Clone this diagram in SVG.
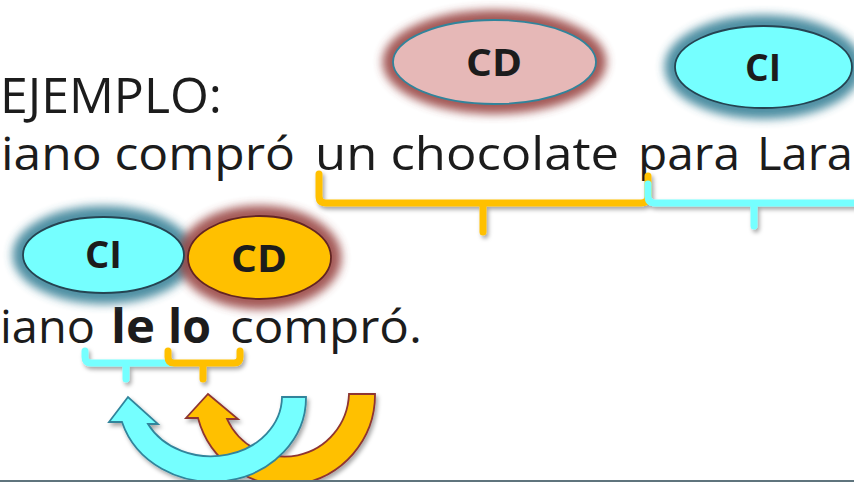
<svg xmlns="http://www.w3.org/2000/svg" width="854" height="482" viewBox="0 0 854 482">
<defs>
<style>
.txt{font-family:"Open Sans","Noto Sans","Liberation Sans",sans-serif;fill:#1c1c1c}
.big{font-size:49px}
.line{font-size:46px}
.bold{font-weight:bold}
.lbl{font-family:"Open Sans","Noto Sans","Liberation Sans",sans-serif;font-weight:bold;font-size:37px;fill:#1c1c1c;text-anchor:middle}
.brO{fill:none;stroke:#FFC000;stroke-width:7;stroke-linecap:round;stroke-linejoin:round}
.brC{fill:none;stroke:#75FFFF;stroke-width:7;stroke-linecap:round;stroke-linejoin:round}
.glowR{fill:#9A4644;stroke:#9A4644;stroke-width:8;opacity:0.9}
.glowT{fill:#3A8399;stroke:#3A8399;stroke-width:8;opacity:0.9}
</style>
<filter id="blur" x="-30%" y="-40%" width="160%" height="180%">
<feGaussianBlur stdDeviation="5"/>
</filter>
<filter id="shadow" x="-20%" y="-20%" width="140%" height="150%">
<feDropShadow dx="2" dy="3" stdDeviation="2" flood-color="#000" flood-opacity="0.35"/>
</filter>
</defs>
<rect width="854" height="482" fill="#ffffff"/>

<g id="texts">
<text class="txt big" x="0" y="113" textLength="222" lengthAdjust="spacingAndGlyphs">EJEMPLO:</text>
<text class="txt line" x="1" y="170" textLength="294" lengthAdjust="spacingAndGlyphs">iano compró</text>
<text class="txt line" x="315" y="170" textLength="304" lengthAdjust="spacingAndGlyphs">un chocolate</text>
<text class="txt line" x="638" y="170" textLength="102" lengthAdjust="spacingAndGlyphs">para</text>
<text class="txt line" x="757" y="170" textLength="96" lengthAdjust="spacingAndGlyphs">Lara</text>
<text class="txt line" x="0" y="343" textLength="95" lengthAdjust="spacingAndGlyphs">iano</text>
<text class="txt line bold" x="111" y="343" textLength="44" lengthAdjust="spacingAndGlyphs">le</text>
<text class="txt line bold" x="168" y="343" textLength="43" lengthAdjust="spacingAndGlyphs">lo</text>
<text class="txt line" x="230" y="343" textLength="192" lengthAdjust="spacingAndGlyphs">compró.</text>
</g>

<g id="node-cd-top">
<ellipse class="glowR" cx="494.5" cy="62" rx="108" ry="48" filter="url(#blur)"/>
<ellipse cx="494.5" cy="62" rx="101.5" ry="42" fill="#E6B8B7" stroke="#31849B" stroke-width="1.8"/>
<text class="lbl" x="494" y="76" textLength="56" lengthAdjust="spacingAndGlyphs">CD</text>
</g>

<g id="node-ci-top">
<ellipse class="glowT" cx="763.5" cy="67" rx="95" ry="48" filter="url(#blur)"/>
<ellipse cx="763.5" cy="67" rx="88.5" ry="41" fill="#75FFFF" stroke="#254452" stroke-width="1.8"/>
<text class="lbl" x="763" y="81" textLength="36" lengthAdjust="spacingAndGlyphs">CI</text>
</g>

<g id="node-ci-bottom">
<ellipse class="glowT" cx="103.5" cy="255" rx="87" ry="45" filter="url(#blur)"/>
</g>
<g id="node-cd-bottom">
<ellipse class="glowR" cx="259.5" cy="257.5" rx="78" ry="48" filter="url(#blur)"/>
</g>
<g id="node-ci-bottom-shape">
<ellipse cx="103.5" cy="255" rx="80.5" ry="38" fill="#75FFFF" stroke="#254452" stroke-width="1.8"/>
<text class="lbl" x="103.5" y="268" textLength="37" lengthAdjust="spacingAndGlyphs">CI</text>
</g>
<g id="node-cd-bottom-shape">
<ellipse cx="259.5" cy="257.5" rx="71.5" ry="41.5" fill="#FFC000" stroke="#632523" stroke-width="1.8"/>
<text class="lbl" x="259" y="272" textLength="56" lengthAdjust="spacingAndGlyphs">CD</text>
</g>

<g id="connectors">
<g filter="url(#shadow)">
<path class="brO" d="M319 174 V196 Q319 203 326 203 H641 Q648 203 648 196 V176 M483 203 V232"/>
<path class="brC" d="M648 184 V196 Q648 203 655 203 H870 M754 203 V226"/>
<path class="brC" d="M85 351 V357 Q85 363 91 363 H172 M126 363 V379"/>
<path class="brO" d="M168 351 V357 Q168 363 174 363 H234 Q240 363 240 357 V351 M203 363 V379"/>
</g>
<g filter="url(#shadow)">
<path d="M375 394 A90 90 0 0 1 198 418 L186 418 L208 394 L238 419 L227 419 A64 65 0 0 0 349 394 Z" fill="#FFC000" stroke="#8E3532" stroke-width="1.8" stroke-linejoin="miter"/>
<path d="M306 397 A94 84 0 0 1 122 422 L109 422 L128 397 L158 424 L148 424 A71 60 0 0 0 282 397 Z" fill="#75FFFF" stroke="#31849B" stroke-width="1.8" stroke-linejoin="miter"/>
</g>
</g>

<rect x="0" y="480" width="854" height="2" fill="#5F747D"/>
</svg>
